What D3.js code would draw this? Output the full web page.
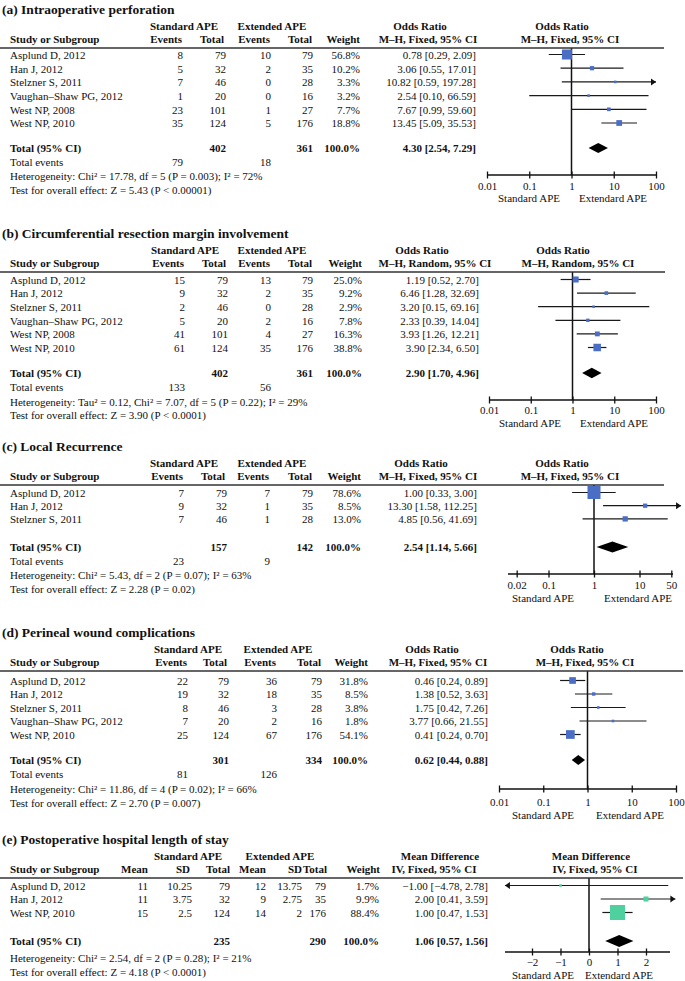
<!DOCTYPE html>
<html><head><meta charset="utf-8">
<script src="https://cdn.jsdelivr.net/npm/d3@7"></script>
<style>
body{margin:0;background:#fff;}
svg text{font-family:"Liberation Serif","Times New Roman",serif;fill:#111;}
</style></head>
<body><svg id="chart" width="685" height="981"></svg>
<script>
// ---------- (a) Intraoperative perforation ----------
const studiesA = ["Asplund D, 2012","Han J, 2012","Stelzner S, 2011","Vaughan–Shaw PG, 2012","West NP, 2008","West NP, 2010"];
const stdEventsA = [8,5,7,1,23,35];
const stdTotalA = [79,32,46,20,101,124];
const extEventsA = [10,2,0,0,1,5];
const extTotalA = [79,35,28,16,27,176];
const weightA = [56.8,10.2,3.3,3.2,7.7,18.8];
const estA = [0.78,3.06,10.82,2.54,7.67,13.45];
const lowA = [0.29,0.55,0.59,0.10,0.99,5.09];
const highA = [2.09,17.01,197.28,66.59,59.60,35.53];
const pooledA = [4.30,2.54,7.29];
const totalsA = [402,361];
const totalEventsA = [79,18];
const hetA = "Heterogeneity: Chi² = 17.78, df = 5 (P = 0.003); I² = 72%";
const testA = "Test for overall effect: Z = 5.43 (P < 0.00001)";
const ticksA = [0.01,0.1,1,10,100];
const tickLabelsA = ["0.01","0.1","1","10","100"];

// ---------- (b) Circumferential resection margin involvement ----------
const studiesB = ["Asplund D, 2012","Han J, 2012","Stelzner S, 2011","Vaughan–Shaw PG, 2012","West NP, 2008","West NP, 2010"];
const stdEventsB = [15,9,2,5,41,61];
const stdTotalB = [79,32,46,20,101,124];
const extEventsB = [13,2,0,2,4,35];
const extTotalB = [79,35,28,16,27,176];
const weightB = [25.0,9.2,2.9,7.8,16.3,38.8];
const estB = [1.19,6.46,3.20,2.33,3.93,3.90];
const lowB = [0.52,1.28,0.15,0.39,1.26,2.34];
const highB = [2.70,32.69,69.16,14.04,12.21,6.50];
const pooledB = [2.90,1.70,4.96];
const totalsB = [402,361];
const totalEventsB = [133,56];
const hetB = "Heterogeneity: Tau² = 0.12, Chi² = 7.07, df = 5 (P = 0.22); I² = 29%";
const testB = "Test for overall effect: Z = 3.90 (P < 0.0001)";
const ticksB = [0.01,0.1,1,10,100];
const tickLabelsB = ["0.01","0.1","1","10","100"];

// ---------- (c) Local Recurrence ----------
const studiesC = ["Asplund D, 2012","Han J, 2012","Stelzner S, 2011"];
const stdEventsC = [7,9,7];
const stdTotalC = [79,32,46];
const extEventsC = [7,1,1];
const extTotalC = [79,35,28];
const weightC = [78.6,8.5,13.0];
const estC = [1.00,13.30,4.85];
const lowC = [0.33,1.58,0.56];
const highC = [3.00,112.25,41.69];
const pooledC = [2.54,1.14,5.66];
const totalsC = [157,142];
const totalEventsC = [23,9];
const hetC = "Heterogeneity: Chi² = 5.43,  df = 2 (P = 0.07); I² = 63%";
const testC = "Test for overall effect: Z = 2.28 (P = 0.02)";
const ticksC = [0.02,0.1,1,10,50];
const tickLabelsC = ["0.02","0.1","1","10","50"];

// ---------- (d) Perineal wound complications ----------
const studiesD = ["Asplund D, 2012","Han J, 2012","Stelzner S, 2011","Vaughan–Shaw PG, 2012","West NP, 2010"];
const stdEventsD = [22,19,8,7,25];
const stdTotalD = [79,32,46,20,124];
const extEventsD = [36,18,3,2,67];
const extTotalD = [79,35,28,16,176];
const weightD = [31.8,8.5,3.8,1.8,54.1];
const estD = [0.46,1.38,1.75,3.77,0.41];
const lowD = [0.24,0.52,0.42,0.66,0.24];
const highD = [0.89,3.63,7.26,21.55,0.70];
const pooledD = [0.62,0.44,0.88];
const totalsD = [301,334];
const totalEventsD = [81,126];
const hetD = "Heterogeneity: Chi² = 11.86, df = 4 (P = 0.02); I² = 66%";
const testD = "Test for overall effect: Z = 2.70 (P = 0.007)";
const ticksD = [0.01,0.1,1,10,100];
const tickLabelsD = ["0.01","0.1","1","10","100"];

// ---------- (e) Postoperative hospital length of stay ----------
const studiesE = ["Asplund D, 2012","Han J, 2012","West NP, 2010"];
const stdMeanE = [11,11,15];
const stdSDE = [10.25,3.75,2.5];
const stdTotalE = [79,32,124];
const extMeanE = [12,9,14];
const extSDE = [13.75,2.75,2];
const extTotalE = [79,35,176];
const weightE = [1.7,9.9,88.4];
const estE = [-1.00,2.00,1.00];
const lowE = [-4.78,0.41,0.47];
const highE = [2.78,3.59,1.53];
const pooledE = [1.06,0.57,1.56];
const totalsE = [235,290];
const hetE = "Heterogeneity: Chi² = 2.54,  df = 2 (P = 0.28); I² = 21%";
const testE = "Test for overall effect: Z = 4.18 (P < 0.0001)";
const ticksE = [-2,-1,0,1,2];
const tickLabelsE = ["−2","−1","0","1","2"];

// ---------- drawing ----------
const svg = d3.select("#chart");
const f2 = d3.format(".2f");
const fCI = (e,l,h) => `${f2(e)} [${f2(l)}, ${f2(h)}]`;
const fW = w => d3.format(".1f")(w) + "%";
const BLUE = "#4a6dc6", GREEN = "#4fd09f";

function txt(g, x, y, s, anchor, weight, size) {
  return g.append("text").attr("x", x).attr("y", y).attr("dy", "0.35em")
    .attr("text-anchor", anchor || "start")
    .style("font-weight", weight || "normal")
    .style("font-size", (size || 11) + "px")
    .text(s);
}

function drawPanel(c) {
  const g = svg.append("g");
  txt(g, 2, c.T, c.title, "start", "bold", 13.5);
  const h1 = c.T + 17.5, h2 = c.T + 30.5, lineY = c.T + 39;
  c.groups.forEach(d => txt(g, d[1], h1, d[0], "middle", "bold"));
  txt(g, 10, h2, "Study or Subgroup", "start", "bold");
  c.hdr2.forEach(d => txt(g, d[1], h2, d[0], "end", "bold"));
  txt(g, c.effHdr[1], h1, c.effHdr[0], "middle", "bold");
  txt(g, c.effHdr[3], h2, c.effHdr[2], "middle", "bold");
  txt(g, c.plotHdr[0], h1, c.effHdr[0], "middle", "bold");
  txt(g, c.plotHdr[1], h2, c.effHdr[2], "middle", "bold");

  const rowY = i => c.row0 + i * c.step;
  c.studies.forEach((s, i) => {
    txt(g, 10, rowY(i), s);
    c.rows[i].forEach((v, j) => txt(g, c.cols[j], rowY(i), v, "end"));
  });
  txt(g, 10, c.totalY, "Total (95% CI)", "start", "bold");
  c.totalRow.forEach((v, j) => { if (v !== "") txt(g, c.cols[j], c.totalY, v, "end", "bold"); });
  if (c.totalEvents) {
    txt(g, 10, c.totalEvY, "Total events");
    txt(g, c.cols[0], c.totalEvY, String(c.totalEvents[0]), "end");
    txt(g, c.cols[2], c.totalEvY, String(c.totalEvents[1]), "end");
  }
  txt(g, 10, c.hetY, c.het);
  txt(g, 10, c.testY, c.test);

  // plot
  const x = c.scale;
  const ax = c.axisY;
  g.append("line").attr("x1", x(c.ref)).attr("x2", x(c.ref)).attr("y1", lineY).attr("y2", ax)
    .attr("stroke", "#111").attr("stroke-width", 1.5);
  const maxW = d3.max(c.weight);
  c.est.forEach((e, i) => {
    const y = rowY(i) - 0.5;
    const lo = Math.max(c.low[i], c.clip[0]), hi = Math.min(c.high[i], c.clip[1]);
    g.append("line").attr("x1", x(lo)).attr("x2", x(hi)).attr("y1", y).attr("y2", y)
      .attr("stroke", "#1a1a1a").attr("stroke-width", 1.2);
    if (c.high[i] > c.clip[1]) {
      const t = x(hi);
      g.append("path").attr("d", `M${t},${y}L${t-5},${y-3.5}L${t-5},${y+3.5}Z`).attr("fill", "#111");
    }
    if (c.low[i] < c.clip[0]) {
      const t = x(lo);
      g.append("path").attr("d", `M${t},${y}L${t+5},${y-3.5}L${t+5},${y+3.5}Z`).attr("fill", "#111");
    }
  });
  c.est.forEach((e, i) => {
    const y = rowY(i) - 0.5;
    const s = Math.max(2.6, c.boxMax * Math.sqrt(c.weight[i] / maxW));
    g.append("rect").attr("x", x(e) - s / 2).attr("y", y - s / 2).attr("width", s).attr("height", s)
      .attr("fill", c.color);
  });
  const dy = c.totalY, dh = c.diamondH / 2;
  g.append("path").attr("d",
    `M${x(c.pooled[1])},${dy}L${x(c.pooled[0])},${dy-dh}L${x(c.pooled[2])},${dy}L${x(c.pooled[0])},${dy+dh}Z`)
    .attr("fill", "#000");

  // axis
  const axis = d3.axisBottom(x).tickValues(c.ticks).tickFormat((d, i) => c.tickLabels[i]).tickSize(3.5);
  const ag = g.append("g").attr("transform", `translate(0,${ax})`).call(axis);
  ag.attr("font-family", null).attr("font-size", null);
  ag.select(".domain").remove();
  ag.selectAll(".tick line").attr("y1", -3.5).attr("y2", 3.5).attr("stroke", "#111").attr("stroke-width", 1.3);
  ag.selectAll(".tick text").attr("y", c.tickLabY - ax).attr("dy", "0.35em")
    .style("font-size", "11px").attr("fill", "#111");
  g.append("line").attr("x1", c.axisLine[0]).attr("x2", c.axisLine[1]).attr("y1", ax).attr("y2", ax)
    .attr("stroke", "#111").attr("stroke-width", 1.5);
  txt(g, c.sides[0], c.sideY, "Standard APE", "middle");
  txt(g, c.sides[1], c.sideY, "Extendard APE", "middle");

  // header rule
  g.append("line").attr("x1", 0).attr("x2", c.lineEnd).attr("y1", lineY).attr("y2", lineY)
    .attr("stroke", "#333").attr("stroke-width", 1.4);
}

function binRows(ev1, t1, ev2, t2, w, est, lo, hi) {
  return ev1.map((_, i) => [String(ev1[i]), String(t1[i]), String(ev2[i]), String(t2[i]), fW(w[i]), fCI(est[i], lo[i], hi[i])]);
}

const hdrBin = (cols) => [["Events", cols[0]-1], ["Total", cols[1]-2], ["Events", cols[2]-1], ["Total", cols[3]-1], ["Weight", cols[4]]];

// (a)
const colsA = [183,226,271,313,360,476];
drawPanel({
  title: "(a) Intraoperative perforation", T: 9,
  groups: [["Standard APE",184],["Extended APE",272]],
  hdr2: hdrBin(colsA), effHdr: ["Odds Ratio",420,"M–H, Fixed, 95% CI",428], plotHdr: [562,570],
  studies: studiesA, rows: binRows(stdEventsA,stdTotalA,extEventsA,extTotalA,weightA,estA,lowA,highA),
  cols: colsA, row0: 55, step: 13.7,
  totalY: 148, totalRow: ["", String(totalsA[0]), "", String(totalsA[1]), "100.0%", fCI(...pooledA)],
  totalEvents: totalEventsA, totalEvY: 162, het: hetA, hetY: 176, test: testA, testY: 190.5,
  lineEnd: 664, scale: d3.scaleLog().domain([0.01,100]).range([487,656]), ref: 1, clip: [0.01,100],
  est: estA, low: lowA, high: highA, weight: weightA, pooled: pooledA, color: BLUE, boxMax: 10, diamondH: 10,
  ticks: ticksA, tickLabels: tickLabelsA, axisY: 175, tickLabY: 186, axisLine: [487,656],
  sideY: 198.5, sides: [529,613]
});

// (b)
const colsB = [185,228,271,313,362,479];
drawPanel({
  title: "(b) Circumferential resection margin involvement", T: 233,
  groups: [["Standard APE",185],["Extended APE",272]],
  hdr2: hdrBin(colsB), effHdr: ["Odds Ratio",422,"M–H, Random, 95% CI",435], plotHdr: [563,578],
  studies: studiesB, rows: binRows(stdEventsB,stdTotalB,extEventsB,extTotalB,weightB,estB,lowB,highB),
  cols: colsB, row0: 280, step: 13.6,
  totalY: 373, totalRow: ["", String(totalsB[0]), "", String(totalsB[1]), "100.0%", fCI(...pooledB)],
  totalEvents: totalEventsB, totalEvY: 387, het: hetB, hetY: 402, test: testB, testY: 415,
  lineEnd: 665, scale: d3.scaleLog().domain([0.01,100]).range([489,656]), ref: 1, clip: [0.01,100],
  est: estB, low: lowB, high: highB, weight: weightB, pooled: pooledB, color: BLUE, boxMax: 7.5, diamondH: 10.5,
  ticks: ticksB, tickLabels: tickLabelsB, axisY: 400, tickLabY: 410.5, axisLine: [489,656],
  sideY: 423.5, sides: [530,614]
});

// (c)
const colsC = [184,227,270,313,361,477];
drawPanel({
  title: "(c) Local Recurrence", T: 446,
  groups: [["Standard APE",184],["Extended APE",272]],
  hdr2: hdrBin(colsC), effHdr: ["Odds Ratio",421,"M–H, Fixed, 95% CI",428], plotHdr: [562,570],
  studies: studiesC, rows: binRows(stdEventsC,stdTotalC,extEventsC,extTotalC,weightC,estC,lowC,highC),
  cols: colsC, row0: 493, step: 13.2,
  totalY: 547, totalRow: ["", String(totalsC[0]), "", String(totalsC[1]), "100.0%", fCI(...pooledC)],
  totalEvents: totalEventsC, totalEvY: 561, het: hetC, hetY: 575, test: testC, testY: 589,
  lineEnd: 664, scale: d3.scaleLog().domain([0.01,100]).range([503,685]), ref: 1, clip: [0.01,82],
  est: estC, low: lowC, high: highC, weight: weightC, pooled: pooledC, color: BLUE, boxMax: 13, diamondH: 11,
  ticks: ticksC, tickLabels: tickLabelsC, axisY: 574, tickLabY: 585.5, axisLine: [508,673],
  sideY: 598.5, sides: [543,638]
});

// (d)
const colsD = [188,229,277,322,368,488];
drawPanel({
  title: "(d) Perineal wound complications", T: 632,
  groups: [["Standard APE",188],["Extended APE",278]],
  hdr2: hdrBin(colsD), effHdr: ["Odds Ratio",432,"M–H, Fixed, 95% CI",438], plotHdr: [577,585],
  studies: studiesD, rows: binRows(stdEventsD,stdTotalD,extEventsD,extTotalD,weightD,estD,lowD,highD),
  cols: colsD, row0: 681, step: 13.5,
  totalY: 760, totalRow: ["", String(totalsD[0]), "", String(totalsD[1]), "100.0%", fCI(...pooledD)],
  totalEvents: totalEventsD, totalEvY: 774, het: hetD, hetY: 789, test: testD, testY: 803,
  lineEnd: 683, scale: d3.scaleLog().domain([0.01,100]).range([499,676]), ref: 1, clip: [0.01,100],
  est: estD, low: lowD, high: highD, weight: weightD, pooled: pooledD, color: BLUE, boxMax: 8.7, diamondH: 10,
  ticks: ticksD, tickLabels: tickLabelsD, axisY: 789, tickLabY: 802, axisLine: [499,676],
  sideY: 815, sides: [543,630]
});

// (e)
const colsE = [148,192,230,266,302,326,379,488];
const rowsE = studiesE.map((_, i) => [String(stdMeanE[i]), String(stdSDE[i]), String(stdTotalE[i]),
  String(extMeanE[i]), String(extSDE[i]), String(extTotalE[i]), fW(weightE[i]), fCI(estE[i], lowE[i], highE[i])]);
drawPanel({
  title: "(e) Postoperative hospital length of stay", T: 839,
  groups: [["Standard APE",188],["Extended APE",280]],
  hdr2: [["Mean",148],["SD",190],["Total",230],["Mean",266],["SD",302],["Total",327],["Weight",380]],
  effHdr: ["Mean Difference",440,"IV, Fixed, 95% CI",434], plotHdr: [591,595],
  studies: studiesE, rows: rowsE,
  cols: colsE, row0: 886, step: 13.5,
  totalY: 941, totalRow: ["", "", String(totalsE[0]), "", "", String(totalsE[1]), "100.0%", fCI(...pooledE)],
  totalEvents: null, het: hetE, hetY: 958, test: testE, testY: 972,
  lineEnd: 683, scale: d3.scaleLinear().domain([-2,2]).range([532,646]), ref: 0, clip: [-2.95,3.03],
  est: estE, low: lowE, high: highE, weight: weightE, pooled: pooledE, color: GREEN, boxMax: 15, diamondH: 12,
  ticks: ticksE, tickLabels: tickLabelsE, axisY: 952, tickLabY: 962.5, axisLine: [505,670],
  sideY: 975, sides: [543,619]
});
</script>
</body></html>
